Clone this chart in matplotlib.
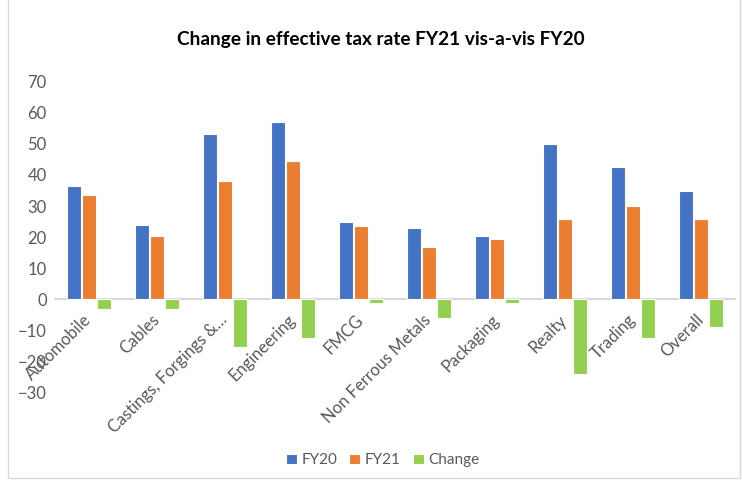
import numpy as np
import matplotlib.pyplot as plt
from matplotlib.patches import Rectangle

# data
categories = ['Automobile', 'Cables', 'Castings, Forgings &…', 'Engineering', 'FMCG',
              'Non Ferrous Metals', 'Packaging', 'Realty', 'Trading', 'Overall']
fy20 = [36.4, 23.8, 53.3, 56.9, 24.8, 22.8, 20.5, 50.1, 42.7, 34.7]
fy21 = [33.4, 20.5, 37.9, 44.5, 23.7, 16.7, 19.4, 25.8, 30.0, 25.7]
change = [-3.2, -3.2, -15.2, -12.5, -1.1, -6.1, -1.1, -24.1, -12.6, -9.0]

plt.rcParams['font.family'] = ['Lato', 'DejaVu Sans']
grey = '#595959'

fig = plt.figure(figsize=(7.43, 4.82), dpi=100)
ax = fig.add_axes([0.074, 0.1855, 0.915, 0.645])

x = np.arange(len(categories))
w = 0.2
step = 0.22
ax.bar(x - step, fy20, w, color='#4472C4', edgecolor='white', linewidth=0.8, label='FY20')
ax.bar(x, fy21, w, color='#ED7D31', edgecolor='white', linewidth=0.8, label='FY21')
ax.bar(x + step, change, w, color='#92D050', edgecolor='white', linewidth=0.8, label='Change')

ax.set_xlim(-0.5, len(categories) - 0.5)
ax.set_ylim(-30, 70)
ax.set_yticks(range(-30, 71, 10))
ax.tick_params(axis='y', length=0, labelsize=12, colors=grey, pad=6)

for s in ['top', 'right', 'left']:
    ax.spines[s].set_visible(False)
ax.spines['bottom'].set_position(('data', 0))
ax.spines['bottom'].set_color('#D9D9D9')
ax.spines['bottom'].set_linewidth(1.5)
ax.spines['bottom'].set_zorder(0)

ax.set_xticks(x)
ax.set_xticklabels(categories, rotation=45, ha='right', va='center', rotation_mode='anchor')
ax.tick_params(axis='x', length=0, labelsize=12, colors=grey, pad=13)

fig.suptitle('Change in effective tax rate FY21 vis-a-vis FY20', x=0.513, y=0.935,
             fontsize=13.7, fontweight='bold', color='black')

fig.legend(loc='center', bbox_to_anchor=(0.515, 0.045), ncol=3, frameon=False,
           fontsize=11, labelcolor=grey, handlelength=0.7, handleheight=0.7,
           handletextpad=0.3, columnspacing=0.8)

fig.patches.append(Rectangle((0.011, 0.008), 0.985, 1.2, transform=fig.transFigure,
                             fill=False, edgecolor='#D9D9D9', linewidth=1))

plt.savefig('out.png', dpi=100)
